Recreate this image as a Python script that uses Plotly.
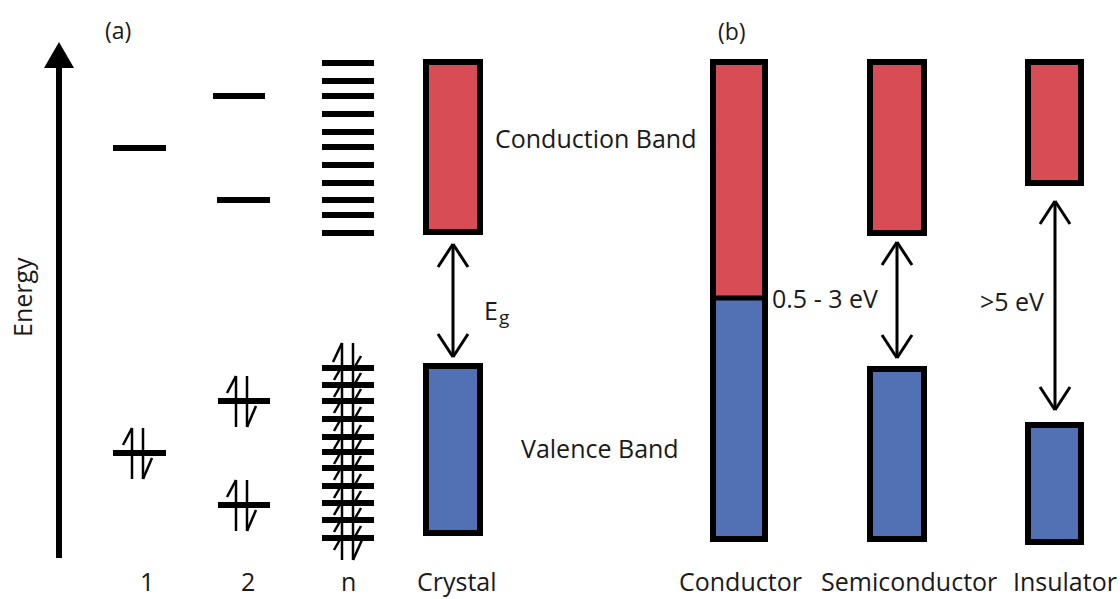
import plotly.graph_objects as go

# ---------------- data (pixel-energy units, y grows downward) ----------------
atom1_upper = [148]
atom1_lower = [453]
atom2_upper = [96, 200]
atom2_lower = [401, 505]
n_upper = [63, 81, 96, 114, 132, 147, 165, 183, 200, 215, 233]
n_lower = [368, 385, 401, 419, 437, 452, 468, 486, 503, 520, 538]

col_labels = ["1", "2", "n", "Crystal", "Conductor", "Semiconductor", "Insulator"]
col_centers = [147, 248, 348, 457, 740, 909, 1065]

crystal_cb = (59, 235)
crystal_vb = (363, 536)
conductor_cb = (59, 298)
conductor_vb = (298, 542)
semi_cb = (59, 236)
semi_vb = (366, 542)
insul_cb = (59, 186)
insul_vb = (422, 545)

gap_labels = ["E", "0.5 - 3 eV", ">5 eV"]
gap_sub = "g"

RED = "#D84C55"
BLUE = "#5270B4"
BLK = "#000000"
TXT = "#1a1a1a"
FONT = "Open Sans"

fig = go.Figure()
shapes = []
ann = []


def hline(x0, x1, y, w=6):
    shapes.append(dict(type="line", x0=x0, x1=x1, y0=y, y1=y, line=dict(color=BLK, width=w)))


def seg(x0, y0, x1, y1, w=2.5):
    shapes.append(dict(type="line", x0=x0, x1=x1, y0=y0, y1=y1, line=dict(color=BLK, width=w)))


def band(xl, xr, top, bot, color):
    shapes.append(dict(type="rect", x0=xl + 3, x1=xr - 3, y0=top + 3, y1=bot - 3,
                       fillcolor=color, line=dict(color=BLK, width=6)))


def dbl_arrow(x, y0, y1):
    seg(x, y0, x, y1, 3)
    seg(x - 15, y0 + 23, x, y0, 3)
    seg(x + 15, y0 + 23, x, y0, 3)
    seg(x - 15, y1 - 23, x, y1, 3)
    seg(x + 15, y1 - 23, x, y1, 3)


def pair(L, y):
    xu, xd = L + 19, L + 30
    seg(xu, y - 25, xu, y + 26)
    seg(xu, y - 25, xu - 9, y - 8)
    seg(xd, y - 25, xd, y + 26)
    seg(xd, y + 26, xd + 9, y + 5)


# Energy axis arrow
seg(59, 558, 59, 64, 6)
shapes.append(dict(type="path", path="M 59 42 L 44 68 L 74 68 Z", fillcolor=BLK, line=dict(color=BLK, width=0)))

# atom 1
for y in atom1_upper:
    hline(113, 166, y)
for y in atom1_lower:
    hline(113, 166, y)
    pair(113, y)

# atom 2
hline(213, 265, atom2_upper[0])
hline(217, 270, atom2_upper[1])
for y in atom2_lower:
    hline(218, 270, y)
    pair(217, y)

# n atoms
for y in n_upper:
    hline(322, 374, y)
for y in n_lower:
    hline(322, 374, y)
seg(342, 343, 342, 560)
seg(353, 343, 353, 560)
seg(342, 343, 333, 362)
seg(353, 560, 362, 540)
for y in n_lower:
    seg(342, y - 2, 334, y + 12)
    seg(353, y + 2, 361, y - 12)

# crystal
band(423, 483, *crystal_cb, RED)
band(423, 483, *crystal_vb, BLUE)
dbl_arrow(453, crystal_cb[1] + 9, crystal_vb[0] - 6)

# conductor
shapes.append(dict(type="rect", x0=713, x1=765, y0=conductor_cb[0] + 3, y1=conductor_cb[1],
                   fillcolor=RED, line=dict(width=0)))
shapes.append(dict(type="rect", x0=713, x1=765, y0=conductor_vb[0], y1=conductor_vb[1] - 3,
                   fillcolor=BLUE, line=dict(width=0)))
shapes.append(dict(type="rect", x0=713, x1=765, y0=conductor_cb[0] + 3, y1=conductor_vb[1] - 3,
                   fillcolor="rgba(0,0,0,0)", line=dict(color=BLK, width=6)))
hline(713, 765, conductor_cb[1], 5)

# semiconductor
band(867, 927, *semi_cb, RED)
band(867, 927, *semi_vb, BLUE)
dbl_arrow(897, semi_cb[1] + 6, semi_vb[0] - 8)

# insulator
band(1025, 1084, *insul_cb, RED)
band(1025, 1084, *insul_vb, BLUE)
dbl_arrow(1055, insul_cb[1] + 15, insul_vb[0] - 12)


def txt(x, y, s, size=25, **kw):
    ann.append(dict(x=x, y=y, text=s, showarrow=False, xref="x", yref="y",
                    font=dict(family=FONT, size=size, color=TXT), **kw))


for lab, cx in zip(col_labels, col_centers):
    txt(cx, 581, lab, 25)
txt(118, 30, "(a)", 23)
txt(732, 31, "(b)", 23)
txt(595, 138, "Conduction Band", 25)
txt(600, 448, "Valence Band", 25)
txt(491, 310, gap_labels[0], 25)
txt(504, 317, gap_sub, 19)
txt(825, 298, gap_labels[1], 25)
txt(1012, 301, gap_labels[2], 25)
txt(22, 297, "Energy", 25, textangle=-90)

fig.update_layout(
    width=1120, height=599,
    margin=dict(l=0, r=0, t=0, b=0),
    paper_bgcolor="white", plot_bgcolor="white",
    shapes=shapes, annotations=ann, showlegend=False,
    xaxis=dict(range=[0, 1120], visible=False, fixedrange=True),
    yaxis=dict(range=[599, 0], visible=False, fixedrange=True),
)
fig.write_html("out.html")
